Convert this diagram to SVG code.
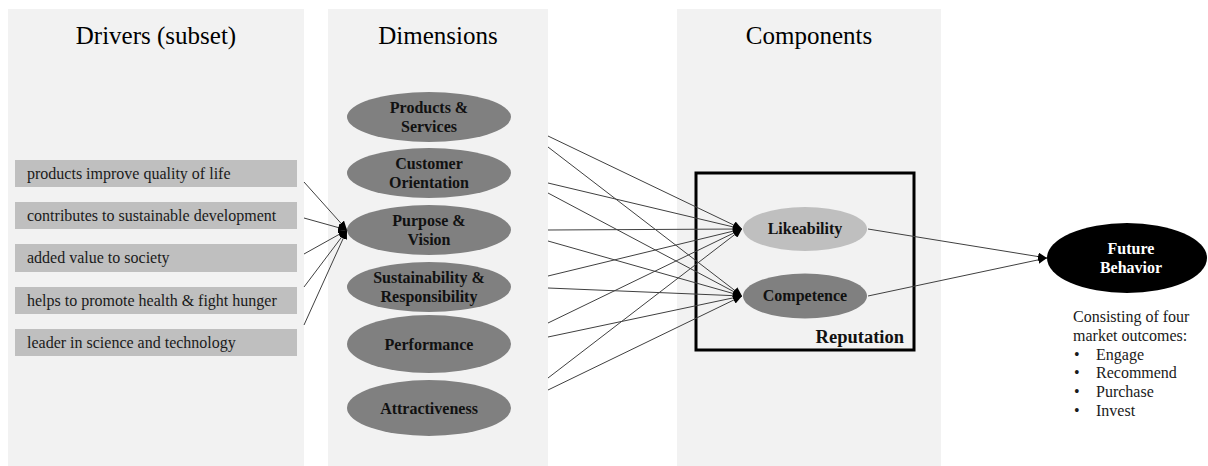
<svg xmlns="http://www.w3.org/2000/svg" width="1208" height="466" viewBox="0 0 1208 466">
<defs>
<style>
.panel{fill:#f2f2f2}
.hdr{font-family:"Liberation Serif",serif;font-size:25px;fill:#000;text-anchor:middle}
.drv{fill:#bfbfbf}
.dt{font-family:"Liberation Serif",serif;font-size:16px;fill:#1a1a1a}
.dim{fill:#808080}
.bt{font-family:"Liberation Serif",serif;font-size:16px;font-weight:bold;fill:#111;text-anchor:middle}
.wt{font-family:"Liberation Serif",serif;font-size:16px;font-weight:bold;fill:#fff;text-anchor:middle}
.ln{stroke:#404040;stroke-width:1;fill:none}
.tx{font-family:"Liberation Serif",serif;font-size:16px;fill:#1a1a1a}
</style>
<marker id="ah" markerUnits="userSpaceOnUse" markerWidth="10" markerHeight="8" refX="9" refY="4" orient="auto">
<path d="M0,0 L9,4 L0,8 z" fill="#000"/>
</marker>
</defs>
<g id="panels">
<rect class="panel" x="8" y="9" width="296" height="457"/>
<rect class="panel" x="328" y="9" width="220" height="457"/>
<rect class="panel" x="677" y="9" width="264" height="457"/>
<text class="hdr" x="156" y="44">Drivers (subset)</text>
<text class="hdr" x="438" y="44">Dimensions</text>
<text class="hdr" x="809" y="44">Components</text>
</g>
<g id="reputation">
<rect x="696" y="173" width="218" height="177" fill="none" stroke="#000" stroke-width="3"/>
<text x="904" y="343" font-family="Liberation Serif,serif" font-size="18.5" font-weight="bold" text-anchor="end" fill="#111">Reputation</text>
</g>
<g id="driver1"><rect class="drv" x="15" y="160" width="282" height="27"/><text class="dt" x="27" y="179">products improve quality of life</text></g>
<g id="driver2"><rect class="drv" x="15" y="202" width="282" height="27"/><text class="dt" x="27" y="221">contributes to sustainable development</text></g>
<g id="driver3"><rect class="drv" x="15" y="244" width="282" height="28"/><text class="dt" x="27" y="263">added value to society</text></g>
<g id="driver4"><rect class="drv" x="15" y="287" width="282" height="27"/><text class="dt" x="27" y="306">helps to promote health &amp; fight hunger</text></g>
<g id="driver5"><rect class="drv" x="15" y="329" width="282" height="27"/><text class="dt" x="27" y="348">leader in science and technology</text></g>
<g id="dim-products"><ellipse class="dim" cx="429" cy="117" rx="82" ry="25"/><text class="bt" x="429" y="113">Products &amp;</text><text class="bt" x="429" y="132">Services</text></g>
<g id="dim-customer"><ellipse class="dim" cx="429" cy="173" rx="82" ry="25"/><text class="bt" x="429" y="169">Customer</text><text class="bt" x="429" y="188">Orientation</text></g>
<g id="dim-purpose"><ellipse class="dim" cx="429" cy="230" rx="82" ry="25"/><text class="bt" x="429" y="226">Purpose &amp;</text><text class="bt" x="429" y="245">Vision</text></g>
<g id="dim-sustainability"><ellipse class="dim" cx="429" cy="287" rx="82" ry="25"/><text class="bt" x="429" y="283">Sustainability &amp;</text><text class="bt" x="429" y="302">Responsibility</text></g>
<g id="dim-performance"><ellipse class="dim" cx="429" cy="344" rx="82" ry="29"/><text class="bt" x="429" y="350">Performance</text></g>
<g id="dim-attractiveness"><ellipse class="dim" cx="429" cy="408" rx="82" ry="28"/><text class="bt" x="429" y="414">Attractiveness</text></g>
<g id="likeability"><ellipse cx="805" cy="229" rx="62" ry="22" fill="#bfbfbf"/><text class="bt" x="805" y="234">Likeability</text></g>
<g id="competence"><ellipse cx="805" cy="296" rx="62" ry="22.5" fill="#808080"/><text class="bt" x="805" y="301">Competence</text></g>
<g id="future"><ellipse cx="1127" cy="258" rx="80" ry="35" fill="#000"/><text class="wt" x="1131" y="254">Future</text><text class="wt" x="1131" y="273">Behavior</text></g>
<g id="outcomes">
<text class="tx" x="1073" y="322">Consisting of four</text>
<text class="tx" x="1073" y="341">market outcomes:</text>
<text class="tx" x="1074" y="359.5">•</text><text class="tx" x="1096" y="359.5">Engage</text>
<text class="tx" x="1074" y="378">•</text><text class="tx" x="1096" y="378">Recommend</text>
<text class="tx" x="1074" y="397">•</text><text class="tx" x="1096" y="397">Purchase</text>
<text class="tx" x="1074" y="415.5">•</text><text class="tx" x="1096" y="415.5">Invest</text>
</g>
<g id="connectors">
<line class="ln" x1="304" y1="182" x2="347" y2="230" marker-end="url(#ah)"/>
<line class="ln" x1="304" y1="218" x2="347" y2="230" marker-end="url(#ah)"/>
<line class="ln" x1="304" y1="254" x2="347" y2="230" marker-end="url(#ah)"/>
<line class="ln" x1="304" y1="287" x2="347" y2="230" marker-end="url(#ah)"/>
<line class="ln" x1="304" y1="325" x2="347" y2="230" marker-end="url(#ah)"/>
<line class="ln" x1="548" y1="136" x2="742" y2="229" marker-end="url(#ah)"/>
<line class="ln" x1="548" y1="147" x2="742" y2="296" marker-end="url(#ah)"/>
<line class="ln" x1="548" y1="183" x2="742" y2="229" marker-end="url(#ah)"/>
<line class="ln" x1="548" y1="193" x2="742" y2="296" marker-end="url(#ah)"/>
<line class="ln" x1="548" y1="230" x2="742" y2="229" marker-end="url(#ah)"/>
<line class="ln" x1="548" y1="241" x2="742" y2="296" marker-end="url(#ah)"/>
<line class="ln" x1="548" y1="276" x2="742" y2="229" marker-end="url(#ah)"/>
<line class="ln" x1="548" y1="288" x2="742" y2="296" marker-end="url(#ah)"/>
<line class="ln" x1="548" y1="323" x2="742" y2="229" marker-end="url(#ah)"/>
<line class="ln" x1="548" y1="337" x2="742" y2="296" marker-end="url(#ah)"/>
<line class="ln" x1="548" y1="378" x2="742" y2="229" marker-end="url(#ah)"/>
<line class="ln" x1="548" y1="390" x2="742" y2="296" marker-end="url(#ah)"/>
<line class="ln" x1="868" y1="229" x2="1047" y2="258" marker-end="url(#ah)"/>
<line class="ln" x1="868" y1="296" x2="1047" y2="258" marker-end="url(#ah)"/>
</g>
</svg>
